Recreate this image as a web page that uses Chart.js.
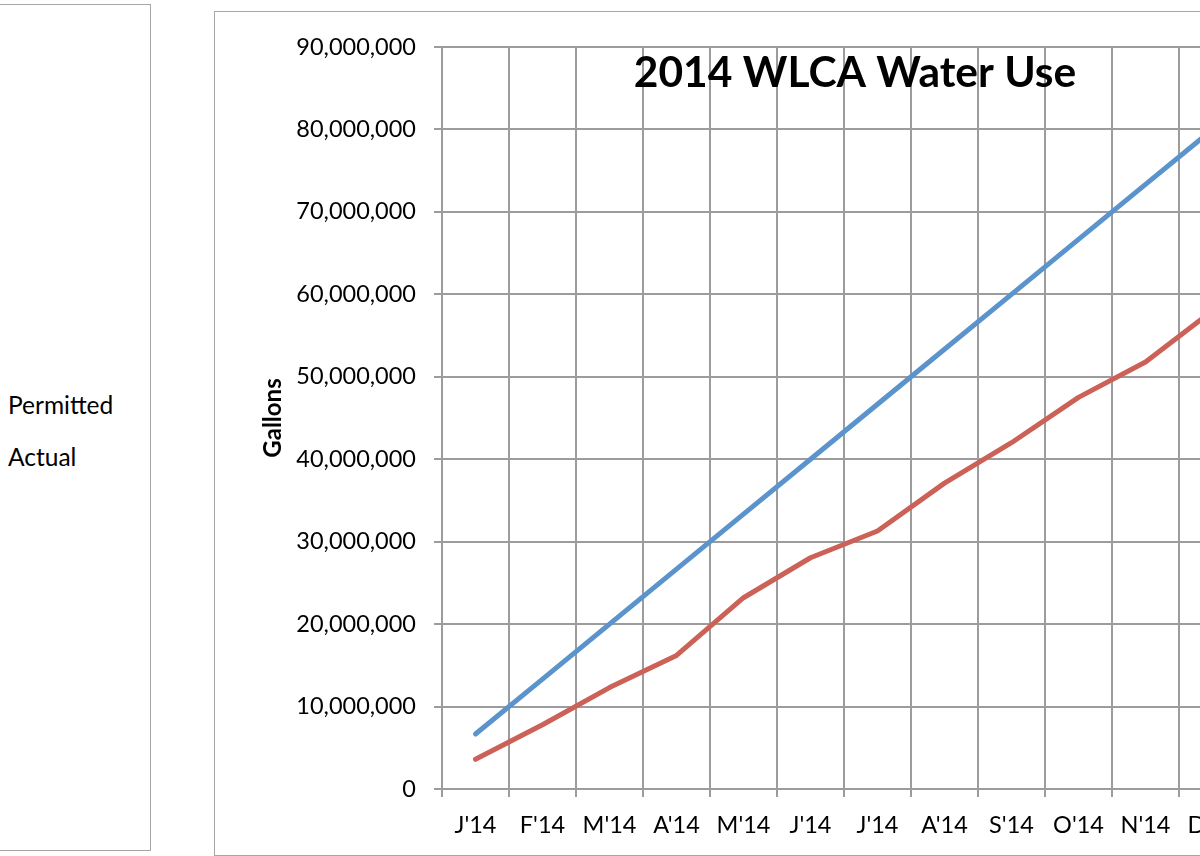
<!DOCTYPE html>
<html>
<head>
<meta charset="utf-8">
<script src="https://cdn.jsdelivr.net/npm/chart.js@4.4.1/dist/chart.umd.min.js"></script>
<style>
  html, body { margin: 0; padding: 0; background: #fff; width: 1200px; height: 856px; overflow: hidden; }
  #legendBox { position: absolute; left: -2px; top: 4px; width: 153px; height: 847px; border: 1.5px solid #a6a6a6; box-sizing: border-box; }
  .leg { position: absolute; left: 8px; font-family: Lato, "Open Sans", sans-serif; font-size: 24.5px; color: #000; line-height: 28px; }
  #chartBox { position: absolute; left: 214px; top: 11px; width: 1110px; height: 845px; border: 1.5px solid #a6a6a6; box-sizing: border-box; }
  #wrap { position: absolute; left: 216px; top: 13px; width: 1100px; height: 841px; }
</style>
</head>
<body>
<div id="legendBox"></div>
<div class="leg" style="top:391px">Permitted</div>
<div class="leg" style="top:443px">Actual</div>
<div id="chartBox"></div>
<div id="wrap"><canvas id="c" width="1100" height="841"></canvas></div>
<script>
const categories = ["J'14", "F'14", "M'14", "A'14", "M'14", "J'14", "J'14", "A'14", "S'14", "O'14", "N'14", "D'14"];
const permitted = [6666667, 13333333, 20000000, 26666667, 33333333, 40000000, 46666667, 53333333, 60000000, 66666667, 73333333, 80000000];
const actual = [3600000, 7800000, 12300000, 16200000, 23200000, 28050000, 31300000, 37100000, 42000000, 47500000, 51800000, 58000000];
const yTicks = [0, 10000000, 20000000, 30000000, 40000000, 50000000, 60000000, 70000000, 80000000, 90000000];
const chartTitle = "2014 WLCA Water Use";
const yTitle = "Gallons";

const FONT = "Lato, 'Open Sans', sans-serif";
const GRID = '#9c9c9c';

const titlePlugin = {
  id: 'overTitle',
  afterDatasetsDraw(chart) {
    const ctx = chart.ctx;
    ctx.save();
    ctx.font = "bold 42.5px " + FONT;
    ctx.fillStyle = '#000';
    ctx.textAlign = 'center';
    ctx.textBaseline = 'alphabetic';
    ctx.fillText(chartTitle, 855 - 216, 87 - 13);
    ctx.restore();
  }
};

new Chart(document.getElementById('c'), {
  type: 'line',
  data: {
    labels: categories,
    datasets: [
      { label: 'Permitted', data: permitted, borderColor: '#5b94cc', borderWidth: 5, pointRadius: 0, tension: 0, borderCapStyle: 'round', borderJoinStyle: 'round', fill: false },
      { label: 'Actual', data: actual, borderColor: '#cc6158', borderWidth: 5, pointRadius: 0, tension: 0, borderCapStyle: 'round', borderJoinStyle: 'round', fill: false }
    ]
  },
  options: {
    responsive: false,
    animation: false,
    events: [],
    layout: { padding: { left: 0, top: 34, right: 70, bottom: 0 } },
    plugins: { legend: { display: false }, title: { display: false }, tooltip: { enabled: false } },
    scales: {
      x: {
        type: 'category',
        offset: true,
        grid: { offset: true, color: GRID, lineWidth: 2, tickLength: 8, drawTicks: true },
        border: { color: GRID, width: 2 },
        ticks: { color: '#000', font: { family: FONT, size: 23.5 }, padding: 14, maxRotation: 0, autoSkip: false },
        afterFit(s) { s.height = 65; }
      },
      y: {
        min: 0, max: 90000000,
        afterBuildTicks(s) { s.ticks = yTicks.map(v => ({ value: v })); },
        grid: { color: GRID, lineWidth: 2, tickLength: 8 },
        border: { color: GRID, width: 2 },
        ticks: { color: '#000', font: { family: FONT, size: 23.5 }, padding: 18,
          callback: v => Number(v).toLocaleString('en-US') },
        title: { display: true, text: yTitle, color: '#000', font: { family: FONT, size: 24, weight: 'bold' }, padding: { top: 43, bottom: 0 } },
        afterFit(s) { s.width = 226; }
      }
    }
  },
  plugins: [titlePlugin]
});
</script>
</body>
</html>
